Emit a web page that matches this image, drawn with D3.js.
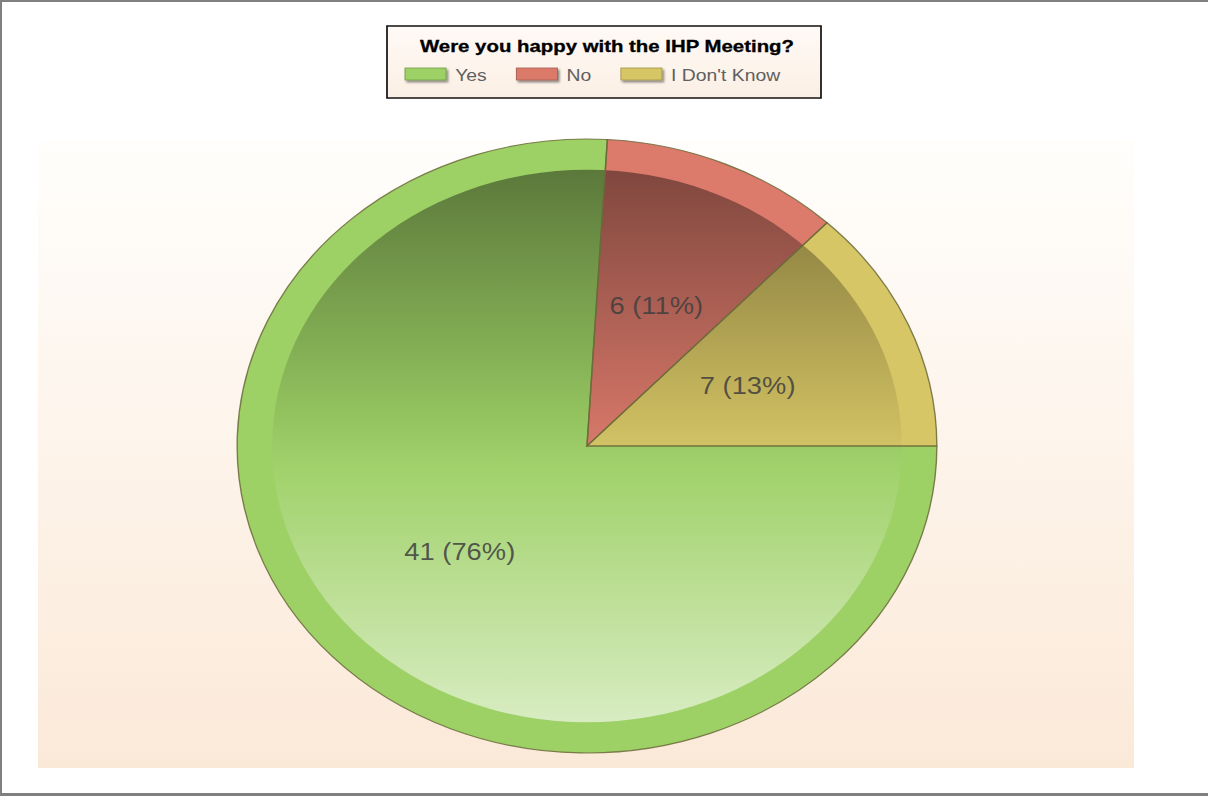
<!DOCTYPE html>
<html>
<head>
<meta charset="utf-8">
<script src="https://cdn.jsdelivr.net/npm/d3@7"></script>
<style>
  body { margin: 0; background: #fff; }
  svg { display: block; }
</style>
</head>
<body>
<svg id="chart"></svg>
<script>
// chart data
const categories = ["Yes", "No", "I Don't Know"];
const counts = [41, 6, 7];
const colors = ["#9dd065", "#dc7a6b", "#d7c665"];
const title = "Were you happy with the IHP Meeting?";

// the picture is stretched horizontally, so draw in an unscaled space and stretch it
const width = 1208, height = 796;
const sx = 1.1396;
const X = (px) => px / sx;

const svg = d3.select("#chart")
    .attr("width", width)
    .attr("height", height);

const defs = svg.append("defs");

// plot area background: white at top to peach at bottom
let bg = defs.append("linearGradient").attr("id", "bgGrad")
    .attr("x1", 0).attr("y1", 0).attr("x2", 0).attr("y2", 1);
bg.append("stop").attr("offset", "0%").attr("stop-color", "#fffefc");
bg.append("stop").attr("offset", "100%").attr("stop-color", "#fbe9d8");

// shading over the inner part of the pie: dark at top, light at bottom
let shade = defs.append("linearGradient").attr("id", "shadeGrad")
    .attr("x1", 0).attr("y1", 0).attr("x2", 0).attr("y2", 1);
shade.append("stop").attr("offset", "0%").attr("stop-color", "#000").attr("stop-opacity", 0.42);
shade.append("stop").attr("offset", "45%").attr("stop-color", "#000").attr("stop-opacity", 0.06);
shade.append("stop").attr("offset", "55%").attr("stop-color", "#fff").attr("stop-opacity", 0.05);
shade.append("stop").attr("offset", "100%").attr("stop-color", "#fff").attr("stop-opacity", 0.6);

// legend background
let lg = defs.append("linearGradient").attr("id", "legGrad")
    .attr("x1", 0).attr("y1", 0).attr("x2", 0).attr("y2", 1);
lg.append("stop").attr("offset", "0%").attr("stop-color", "#fffaf6");
lg.append("stop").attr("offset", "100%").attr("stop-color", "#fbefe4");

// swatch shadow
let sh = defs.append("filter").attr("id", "swShadow")
    .attr("x", "-20%").attr("y", "-30%").attr("width", "150%").attr("height", "190%");
sh.append("feDropShadow").attr("dx", 1.5).attr("dy", 2).attr("stdDeviation", 1)
    .attr("flood-color", "#000").attr("flood-opacity", 0.45);

// frame
svg.append("rect").attr("x", 0).attr("y", 0).attr("width", width).attr("height", height).attr("fill", "#fff");
svg.append("line").attr("x1", 0).attr("y1", 1).attr("x2", width).attr("y2", 1)
    .attr("stroke", "#808080").attr("stroke-width", 2);
svg.append("line").attr("x1", 1).attr("y1", 0).attr("x2", 1).attr("y2", height)
    .attr("stroke", "#808080").attr("stroke-width", 2);
svg.append("line").attr("x1", 0).attr("y1", 794.5).attr("x2", width).attr("y2", 794.5)
    .attr("stroke", "#808080").attr("stroke-width", 3);

const root = svg.append("g").attr("transform", "scale(" + sx + ",1)");

// plot area
root.append("rect")
    .attr("x", X(38)).attr("y", 140)
    .attr("width", X(1134) - X(38)).attr("height", 628)
    .attr("fill", "url(#bgGrad)");

// pie
const cx = X(587), cy = 446, radius = 307;

const pie = d3.pie()
    .sort(null)
    .startAngle(Math.PI / 2)
    .endAngle(Math.PI / 2 + 2 * Math.PI)
    .value((d) => d);

const arcs = pie(counts);
const arc = d3.arc().innerRadius(0).outerRadius(radius);

const pieG = root.append("g").attr("transform", "translate(" + cx + "," + cy + ")");

// full coloured slices
pieG.selectAll("path.slice")
    .data(arcs)
    .enter()
    .append("path")
    .attr("class", "slice")
    .attr("d", arc)
    .attr("fill", (d, i) => colors[i])
    .attr("stroke", "none");

// shaded inner part
pieG.append("circle")
    .attr("r", radius * 0.9)
    .attr("fill", "url(#shadeGrad)");

// slice borders
pieG.selectAll("path.edge")
    .data(arcs)
    .enter()
    .append("path")
    .attr("class", "edge")
    .attr("d", arc)
    .attr("fill", "none")
    .attr("stroke", "#6b6a3a")
    .attr("stroke-opacity", 0.85)
    .attr("stroke-width", 1.2);

// value labels
const total = d3.sum(counts);
pieG.selectAll("text.val")
    .data(arcs)
    .enter()
    .append("text")
    .attr("class", "val")
    .attr("transform", (d) => "translate(" + arc.centroid(d) + ")")
    .attr("text-anchor", "middle")
    .attr("dy", "0.36em")
    .style("font-family", "Arial, 'Liberation Sans', sans-serif")
    .style("font-size", "24px")
    .style("fill", "#3e3e3e")
    .style("fill-opacity", 0.85)
    .text((d) => d.data + " (" + Math.round(d.data / total * 100) + "%)");

// legend
const legX = X(387), legY = 26, legW = X(821) - X(387), legH = 72;
const leg = root.append("g");
leg.append("rect")
    .attr("x", legX).attr("y", legY)
    .attr("width", legW).attr("height", legH)
    .attr("fill", "url(#legGrad)")
    .attr("stroke", "#111")
    .attr("stroke-width", 1.5);

leg.append("text")
    .attr("x", legX + legW / 2 + X(3)).attr("y", 52)
    .attr("text-anchor", "middle")
    .attr("textLength", X(374))
    .attr("lengthAdjust", "spacingAndGlyphs")
    .style("font-family", "Arial, 'Liberation Sans', sans-serif")
    .style("font-weight", "bold")
    .style("font-size", "16px")
    .style("fill", "#000")
    .style("stroke", "#000")
    .style("stroke-width", 0.3)
    .text(title);

// legend items placed one after another
let itemX = X(405);
categories.forEach((c, i) => {
    let g = leg.append("g");
    g.append("rect")
        .attr("x", itemX).attr("y", 68)
        .attr("width", 36).attr("height", 12)
        .attr("fill", colors[i])
        .attr("stroke", d3.color(colors[i]).darker(0.8))
        .attr("stroke-width", 0.8)
        .attr("filter", "url(#swShadow)");
    let t = g.append("text")
        .attr("x", itemX + 44).attr("y", 81)
        .style("font-family", "Arial, 'Liberation Sans', sans-serif")
        .style("font-size", "17px")
        .style("fill", "#606060")
        .text(c);
    itemX += 44 + t.node().getComputedTextLength() + 26;
});
</script>
</body>
</html>
